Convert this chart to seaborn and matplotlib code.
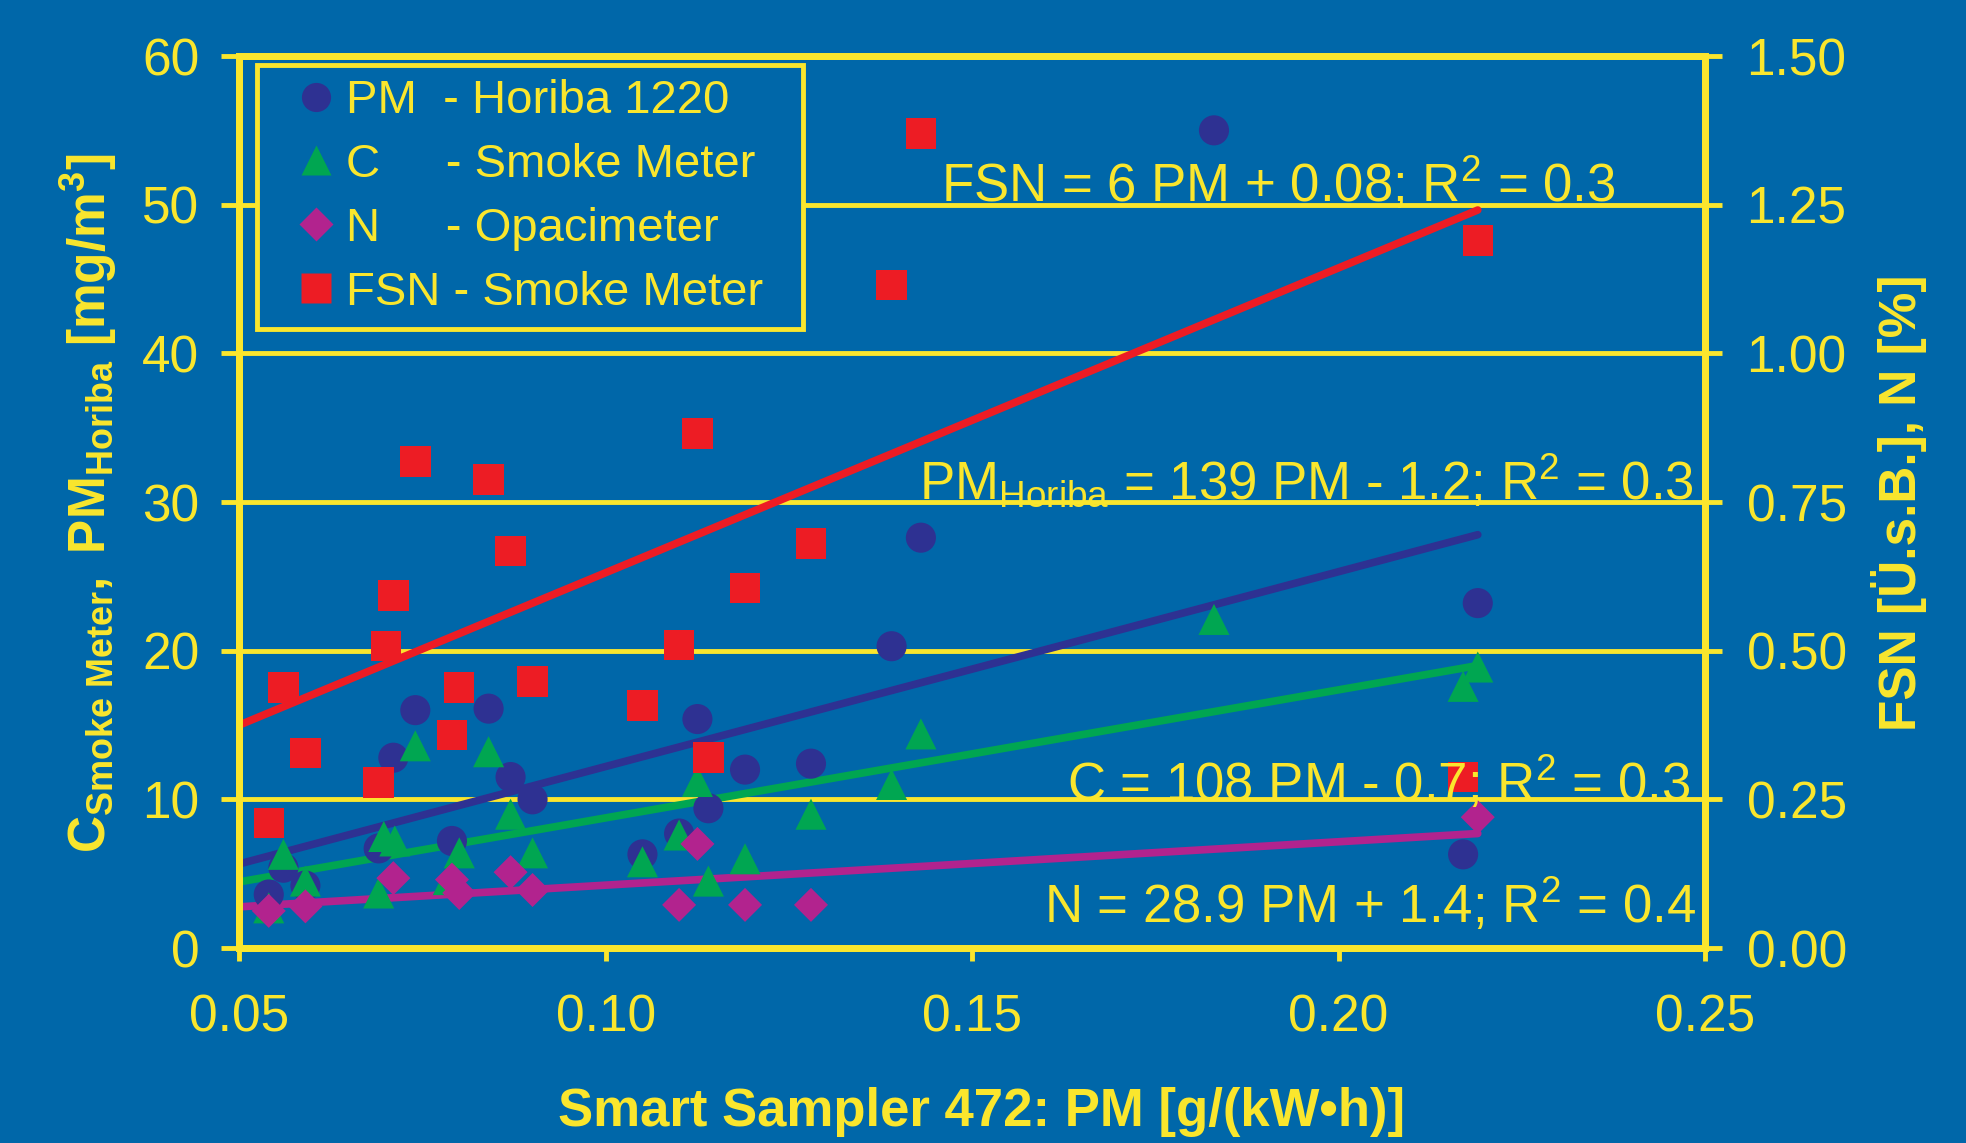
import matplotlib
matplotlib.use("Agg")
import matplotlib.pyplot as plt
from matplotlib.lines import Line2D
import seaborn as sns

# ---------------------------------------------------------
# Data
# ---------------------------------------------------------

pm_x = [0.054, 0.056, 0.059, 0.069, 0.071, 0.074, 0.079, 0.084, 0.087, 0.090,
        0.105, 0.110, 0.1125, 0.114, 0.119, 0.128, 0.139, 0.143, 0.183, 0.217, 0.219]
pm_y = [3.6, 5.4, 4.2, 6.7, 12.8, 16.0, 7.2, 16.1, 11.5, 10.0,
        6.3, 7.7, 15.4, 9.4, 12.0, 12.4, 20.3, 27.6, 55.0, 6.3, 23.2]

c_x = [0.054, 0.056, 0.059, 0.069, 0.0697, 0.0712, 0.074, 0.0785, 0.080, 0.084,
       0.087, 0.090, 0.105, 0.110, 0.1125, 0.114, 0.119, 0.128, 0.139, 0.143,
       0.183, 0.217, 0.219]
c_y = [2.7, 6.3, 4.5, 3.7, 7.5, 7.2, 13.6, 4.6, 6.4, 13.2,
       9.0, 6.4, 5.8, 7.6, 11.2, 4.5, 6.0, 9.0, 11.0, 14.4,
       22.1, 17.6, 18.9]

n_x = [0.054, 0.059, 0.071, 0.079, 0.080, 0.087, 0.090, 0.110, 0.1125, 0.119, 0.128, 0.219]
n_y = [2.5, 2.8, 4.7, 4.6, 3.7, 5.1, 3.9, 2.9, 7.0, 2.9, 2.9, 8.8]

fsn_x = [0.054, 0.056, 0.059, 0.069, 0.070, 0.071, 0.074, 0.079, 0.080, 0.084, 0.087,
         0.090, 0.105, 0.110, 0.1125, 0.114, 0.119, 0.128, 0.139, 0.143, 0.217, 0.219]
fsn_y = [0.21, 0.438, 0.328, 0.278, 0.508, 0.593, 0.818, 0.358, 0.438, 0.788, 0.668,
         0.448, 0.408, 0.51, 0.865, 0.32, 0.605, 0.68, 1.115, 1.37, 0.288, 1.19]

# trend lines (end points)
fit_x = [0.05, 0.219]
fit_pm = [5.66, 27.8]
fit_c = [4.45, 19.0]
fit_n = [2.77, 7.7]
fit_fsn = [0.375, 1.241]

x_ticks = [0.05, 0.10, 0.15, 0.20, 0.25]
y_ticks = [0, 10, 20, 30, 40, 50, 60]
y2_ticks = [0.00, 0.25, 0.50, 0.75, 1.00, 1.25, 1.50]

legend_labels = [
    "PM  - Horiba 1220",
    "C     - Smoke Meter",
    "N     - Opacimeter",
    "FSN - Smoke Meter",
]

equations = [
    "FSN = 6 PM + 0.08; R$^{2}$ = 0.3",
    "PM$_{\\mathrm{Horiba}}$ = 139 PM - 1.2; R$^{2}$ = 0.3",
    "C = 108 PM - 0.7; R$^{2}$ = 0.3",
    "N = 28.9 PM + 1.4; R$^{2}$ = 0.4",
]

# ---------------------------------------------------------
# Style
# ---------------------------------------------------------

BG = "#0067A9"
YEL = "#FAE62D"
RED = "#ED1C24"
NAVY = "#2E3192"
GREEN = "#00A651"
MAGENTA = "#B2238E"

sns.set_theme(style="white")
plt.rcParams["font.family"] = ["Liberation Sans", "DejaVu Sans"]
plt.rcParams["mathtext.fontset"] = "custom"
plt.rcParams["mathtext.rm"] = "Liberation Sans"
plt.rcParams["mathtext.it"] = "Liberation Sans:italic"
plt.rcParams["mathtext.bf"] = "Liberation Sans:bold"
plt.rcParams["mathtext.sf"] = "Liberation Sans"

fig = plt.figure(figsize=(19.66, 11.43), dpi=100, facecolor=BG)
ax = fig.add_axes([0.1218, 0.1706, 0.7454, 0.7804])
ax.set_facecolor(BG)
ax2 = ax.twinx()

# ---------------------------------------------------------
# Trend lines and points
# ---------------------------------------------------------

sns.lineplot(x=fit_x, y=fit_pm, ax=ax, color=NAVY, lw=5.5, zorder=2)
sns.lineplot(x=fit_x, y=fit_c, ax=ax, color=GREEN, lw=5.5, zorder=2)
sns.lineplot(x=fit_x, y=fit_n, ax=ax, color=MAGENTA, lw=5.5, zorder=2)

sns.scatterplot(x=pm_x, y=pm_y, ax=ax, marker="o", s=470, color=NAVY,
                edgecolor="none", linewidth=0, zorder=3)
sns.scatterplot(x=c_x, y=c_y, ax=ax, marker="^", s=500, color=GREEN,
                edgecolor="none", linewidth=0, zorder=4)
sns.scatterplot(x=n_x, y=n_y, ax=ax, marker="D", s=300, color=MAGENTA,
                edgecolor="none", linewidth=0, zorder=5)

sns.lineplot(x=fit_x, y=fit_fsn, ax=ax2, color=RED, lw=5.5, zorder=2)
sns.scatterplot(x=fsn_x, y=fsn_y, ax=ax2, marker="s", s=480, color=RED,
                edgecolor="none", linewidth=0, zorder=3)

# ---------------------------------------------------------
# Axes
# ---------------------------------------------------------

ax.set_xlim(0.05, 0.25)
ax.set_ylim(0, 60)
ax2.set_ylim(0, 1.5)

ax.set_xticks(x_ticks)
ax.set_xticklabels([f"{v:.2f}" for v in x_ticks])
ax.set_yticks(y_ticks)
ax.set_yticklabels([str(v) for v in y_ticks])
ax2.set_yticks(y2_ticks)
ax2.set_yticklabels([f"{v:.2f}" for v in y2_ticks])

ax.set_xlabel("")
ax.set_ylabel("")
ax2.set_ylabel("")

ax.grid(axis="y", color=YEL, lw=3.5)
ax.grid(axis="x", visible=False)
ax.set_axisbelow(True)

ax.tick_params(axis="x", direction="out", length=9, width=3.5, color=YEL,
               labelcolor=YEL, labelsize=37, pad=24, bottom=True)
ax.tick_params(axis="y", direction="out", length=13, width=3.5, color=YEL,
               labelcolor=YEL, labelsize=37, pad=16, left=True)
ax2.tick_params(axis="y", direction="out", length=12, width=3.5, color=YEL,
                labelcolor=YEL, labelsize=37, pad=18, right=True)

for a in (ax, ax2):
    for sp in a.spines.values():
        sp.set_color(YEL)
        sp.set_linewidth(5)

# ---------------------------------------------------------
# Equations
# ---------------------------------------------------------

eq_pos = [(0.1458, 50.2), (0.1427, 30.2), (0.1629, 9.9), (0.1598, 1.7)]
for (ex, ey), txt in zip(eq_pos, equations):
    ax2.text(ex, ey, txt, transform=ax.transData, color=YEL, fontsize=38,
             ha="left", va="baseline", zorder=10)

# ---------------------------------------------------------
# Legend
# ---------------------------------------------------------

handles = [
    Line2D([], [], ls="none", marker="o", markersize=21, color=NAVY, mec="none"),
    Line2D([], [], ls="none", marker="^", markersize=22, color=GREEN, mec="none"),
    Line2D([], [], ls="none", marker="D", markersize=17, color=MAGENTA, mec="none"),
    Line2D([], [], ls="none", marker="s", markersize=21, color=RED, mec="none"),
]
leg = ax2.legend(
    handles,
    [lab + "  " for lab in legend_labels],
    loc="upper left",
    bbox_to_anchor=(0.012, 0.99),
    borderaxespad=0,
    frameon=True,
    fancybox=False,
    facecolor=BG,
    edgecolor=YEL,
    framealpha=1,
    fontsize=34,
    labelcolor=YEL,
    handlelength=1.9,
    handletextpad=-0.32,
    labelspacing=0.42,
    borderpad=0.3,
)
leg.get_frame().set_linewidth(3.5)
leg.set_zorder(20)

# ---------------------------------------------------------
# Axis labels
# ---------------------------------------------------------

fig.text(0.4995, 0.027, "Smart Sampler 472: PM [g/(kW\u2022h)]", color=YEL,
         fontsize=38, fontweight="bold", ha="center", va="center")
fig.text(0.045, 0.56,
         r"$\mathbf{C_{Smoke\ Meter},\ PM_{Horiba}\ [mg/m^{3}]}$",
         color=YEL, fontsize=37, rotation=90, ha="center", va="center")
fig.text(0.966, 0.56, "FSN [\u00dc.s.B.], N [%]", color=YEL, fontsize=37,
         fontweight="bold", rotation=90, ha="center", va="center")

plt.savefig("out.png", dpi=100, facecolor=BG)
plt.close()
